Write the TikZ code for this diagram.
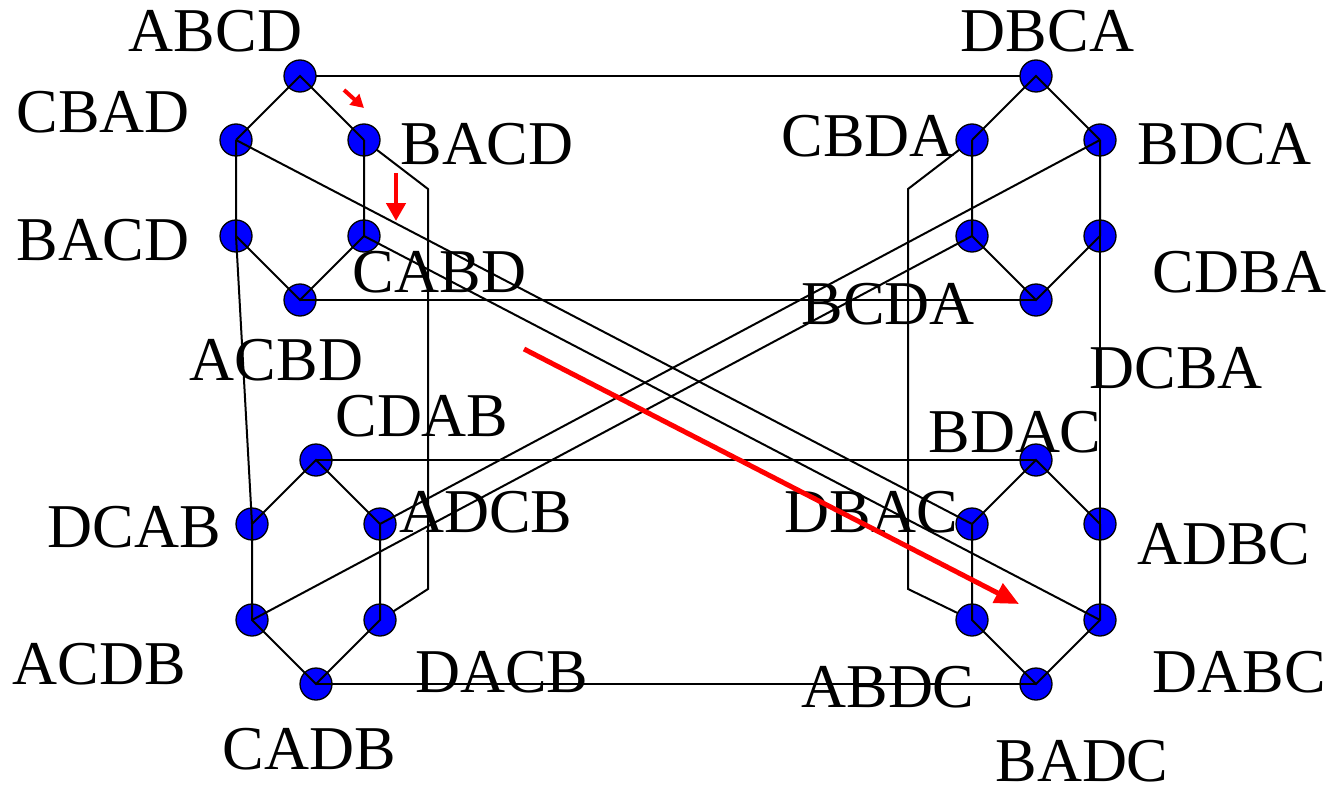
\documentclass[tikz,border=0pt]{standalone}
\usepackage{fontspec}
\setmainfont{Liberation Serif}
\usetikzlibrary{arrows.meta}
\definecolor{dotblue}{RGB}{0,0,255}
\definecolor{hintred}{RGB}{255,0,0}
\begin{document}
\begin{tikzpicture}[x=1pt,y=-1pt,
  state/.style={circle,draw=black,line width=1.3pt,fill=dotblue,minimum size=32pt,inner sep=0pt},
  edge/.style={draw=black,line width=2pt,line join=miter},
  lbl/.style={anchor=base,inner sep=0pt,font=\fontsize{62.3}{62.3}\selectfont},
  hint/.style={draw=hintred,line width=5pt}]
\useasboundingbox (0,0) rectangle (1332,789);

% ---- labels (lowest layer) ----
\node[lbl] (L1)  at (215.5,52)  {ABCD};
\node[lbl] (L2)  at (1047.5,52) {DBCA};
\node[lbl] (L3)  at (103,132)   {CBAD};
\node[lbl] (L4)  at (487,164)   {BACD};
\node[lbl] (L5)  at (868,157)   {CBDA};
\node[lbl] (L6)  at (1224.5,164){BDCA};
\node[lbl] (L7)  at (103,260)   {BACD};
\node[lbl] (L8)  at (439.5,292) {CABD};
\node[lbl] (L9)  at (1239.5,292){CDBA};
\node[lbl] (L10) at (888,324)   {BCDA};
\node[lbl] (L11) at (276.5,380) {ACBD};
\node[lbl] (L12) at (1176,388)  {DCBA};
\node[lbl] (L13) at (422,436)   {CDAB};
\node[lbl] (L14) at (1015,452)  {BDAC};
\node[lbl] (L15) at (134.5,547) {DCAB};
\node[lbl] (L16) at (486,532)   {ADCB};
\node[lbl] (L17) at (871.5,532) {DBAC};
\node[lbl] (L18) at (1224,564)  {ADBC};
\node[lbl] (L19) at (99.5,684)  {ACDB};
\node[lbl] (L20) at (502,692)   {DACB};
\node[lbl] (L21) at (888,707)   {ABDC};
\node[lbl] (L22) at (1239.5,692){DABC};
\node[lbl] (L23) at (309.5,769) {CADB};
\node[lbl] (L24) at (1082,781)  {BADC};

% ---- vertex positions ----
% upper left hexagon
\coordinate (a1) at (300,76);  \coordinate (a2) at (236,140); \coordinate (a3) at (364,140);
\coordinate (a4) at (236,236); \coordinate (a5) at (364,236); \coordinate (a6) at (300,300);
% upper right hexagon
\coordinate (b1) at (1036,76);  \coordinate (b2) at (972,140); \coordinate (b3) at (1100,140);
\coordinate (b4) at (972,236);  \coordinate (b5) at (1100,236); \coordinate (b6) at (1036,300);
% lower left hexagon
\coordinate (c1) at (316,460); \coordinate (c2) at (252,524); \coordinate (c3) at (380,524);
\coordinate (c4) at (252,620); \coordinate (c5) at (380,620); \coordinate (c6) at (316,684);
% lower right hexagon
\coordinate (d1) at (1036,460); \coordinate (d2) at (972,524); \coordinate (d3) at (1100,524);
\coordinate (d4) at (972,620);  \coordinate (d5) at (1100,620); \coordinate (d6) at (1036,684);
% bends of the two side routes
\coordinate (p1) at (428,189); \coordinate (p2) at (428,589);
\coordinate (q1) at (908,189); \coordinate (q2) at (908,589);

% ---- connectors lying beneath the dots ----
\draw[edge] (a1) -- (b1);
\draw[edge] (a3) -- (p1) -- (p2) -- (c5);
\draw[edge] (b2) -- (q1) -- (q2) -- (d4);

% ---- dots ----
\foreach \v in {a1,a2,a3,a4,a5,a6,b1,b2,b3,b4,b5,b6,c1,c2,c3,c4,c5,c6,d1,d2,d3,d4,d5,d6}
  \node[state] (n\v) at (\v) {};

% ---- connectors drawn over the dots ----
\foreach \h in {a,b,c,d}{
  \draw[edge] (n\h2.center) -- (n\h1.center) -- (n\h3.center);
  \draw[edge] (n\h2.center) -- (n\h4.center) -- (n\h6.center) -- (n\h5.center) -- (n\h3.center);
}
\draw[edge] (na6.center) -- (nb6.center);
\draw[edge] (nc1.center) -- (nd1.center);
\draw[edge] (nc6.center) -- (nd6.center);
\draw[edge] (na4.center) -- (nc2.center);
\draw[edge] (nb5.center) -- (nd3.center);
\draw[edge] (na2.center) -- (nd2.center);
\draw[edge] (na5.center) -- (nd5.center);
\draw[edge] (nc3.center) -- (nb3.center);
\draw[edge] (nc4.center) -- (nb4.center);

% ---- red arrows ----
\coordinate (r1s) at (344,90);  \coordinate (r1e) at (364,108);
\coordinate (r2s) at (396,173); \coordinate (r2e) at (396,221);
\coordinate (r3s) at (524,349); \coordinate (r3e) at (1019,604);
\draw[hint,line width=4pt,-{Triangle[length=13pt,width=14pt]}] (r1s) -- (r1e);
\draw[hint,line width=4.5pt,-{Triangle[length=18pt,width=19pt]}] (r2s) -- (r2e);
\draw[hint,-{Triangle[length=24pt,width=21pt]}] (r3s) -- (r3e);
\end{tikzpicture}
\end{document}
